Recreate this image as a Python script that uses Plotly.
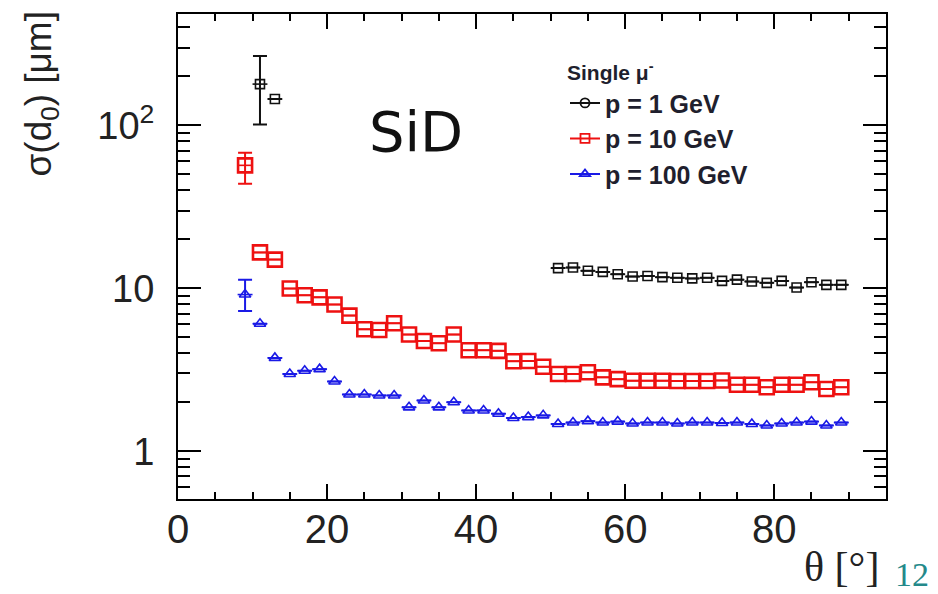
import plotly.graph_objects as go

# ---- data (theta bin centres in degrees, sigma(d0) in micrometres) ----
theta_1gev = [11, 13, 51, 53, 55, 57, 59, 61, 63, 65, 67, 69, 71, 73, 75, 77, 79, 81, 83, 85, 87, 89]
sigma_1gev = [179, 145, 13.3, 13.4, 12.8, 12.6, 12.2, 11.8, 11.9, 11.7, 11.6, 11.5, 11.6, 11.1,
              11.3, 11.0, 10.8, 11.1, 10.1, 10.9, 10.5, 10.5]
err_up_1gev = [87] + [0] * 21
err_dn_1gev = [78] + [0] * 21

theta_10gev = [9, 11, 13, 15, 17, 19, 21, 23, 25, 27, 29, 31, 33, 35, 37, 39, 41, 43, 45, 47, 49,
               51, 53, 55, 57, 59, 61, 63, 65, 67, 69, 71, 73, 75, 77, 79, 81, 83, 85, 87, 89]
sigma_10gev = [56.8, 16.6, 15.0, 9.96, 9.06, 8.8, 7.95, 6.8, 5.6, 5.55, 6.1, 5.2, 4.75, 4.6, 5.2,
               4.17, 4.17, 4.13, 3.57, 3.58, 3.3, 2.98, 2.98, 3.05, 2.84, 2.77, 2.71, 2.71, 2.71,
               2.7, 2.7, 2.7, 2.72, 2.56, 2.56, 2.47, 2.56, 2.56, 2.65, 2.41, 2.47]
err_up_10gev = [11] + [0] * 40
err_dn_10gev = [13] + [0] * 40

theta_100gev = [9, 11, 13, 15, 17, 19, 21, 23, 25, 27, 29, 31, 33, 35, 37, 39, 41, 43, 45, 47, 49,
                51, 53, 55, 57, 59, 61, 63, 65, 67, 69, 71, 73, 75, 77, 79, 81, 83, 85, 87, 89]
sigma_100gev = [9.15, 6.06, 3.74, 2.98, 3.12, 3.19, 2.68, 2.23, 2.23, 2.2, 2.2, 1.86, 2.05, 1.86,
                2.0, 1.78, 1.78, 1.7, 1.6, 1.62, 1.66, 1.47, 1.50, 1.53, 1.50, 1.52, 1.48, 1.50,
                1.50, 1.48, 1.50, 1.50, 1.49, 1.50, 1.47, 1.44, 1.48, 1.50, 1.52, 1.44, 1.50]
err_up_100gev = [2.15] + [0] * 40
err_dn_100gev = [1.9] + [0] * 40

bin_half_width = 1.0

y_tick_vals = [1, 10, 100]
y_tick_text = ["1", "10", "10<sup>2</sup>"]
x_tick_vals = [0, 20, 40, 60, 80]

legend_title = "Single μ<sup>-</sup>"
labels = ["p = 1 GeV", "p = 10 GeV", "p = 100 GeV"]

BLACK = "#111111"
RED = "#ee1111"
BLUE = "#1a1ae6"

fig = go.Figure()


def add_series(x, y, eu, ed, color, symbol, size, lw):
    fig.add_trace(go.Scatter(
        x=x, y=y, mode="markers", showlegend=False,
        marker=dict(symbol=symbol, size=size, color=color,
                    line=dict(color=color, width=lw)),
        error_x=dict(type="constant", value=bin_half_width, color=color, thickness=1.6, width=0),
        error_y=dict(type="data", array=eu, arrayminus=ed, symmetric=False,
                     color=color, thickness=2, width=7),
    ))


add_series(theta_1gev, sigma_1gev, err_up_1gev, err_dn_1gev, BLACK, "square-open", 9, 1.6)
add_series(theta_10gev, sigma_10gev, err_up_10gev, err_dn_10gev, RED, "square-open", 14, 2.6)
add_series(theta_100gev, sigma_100gev, err_up_100gev, err_dn_100gev, BLUE, "triangle-up-open", 10, 1.6)

# legend-only entries
for lab, col, sym in zip(labels, [BLACK, RED, BLUE], ["circle-open", "square-open", "triangle-up-open"]):
    fig.add_trace(go.Scatter(
        x=[None], y=[None], mode="lines+markers", name=lab,
        line=dict(color=col, width=2),
        marker=dict(symbol=sym, size=9, color=col, line=dict(color=col, width=1.8)),
    ))

axis_font = "Liberation Sans, Arial, sans-serif"

# page body has an 8px margin: figure is drawn 8px right/down of the window origin
OFF = 8
W, H = 938 - OFF, 594 - OFF
L, R, T, B = 178 - OFF, 886 - OFF, 12 - OFF, 499 - OFF
PW, PH = R - L, B - T


def px_x(x):
    return (x - 178) / PW


def px_y(y):
    return 1 - (y - 12) / PH


fig.update_layout(
    width=W, height=H,
    margin=dict(l=L, r=W - R, t=T, b=H - B),
    paper_bgcolor="white", plot_bgcolor="white",
    showlegend=True,
    legend=dict(
        x=px_x(565), y=px_y(51), xanchor="left", yanchor="top",
        bgcolor="rgba(0,0,0,0)", borderwidth=0,
        title=dict(text=legend_title, font=dict(size=21, color="#1f1f2e",
                                                 family="Liberation Sans, Arial", weight="bold")),
        font=dict(size=25, color="#1f1f2e", family="Liberation Sans, Arial", weight="bold"),
        itemwidth=30, tracegroupgap=0,
    ),
    xaxis=dict(
        range=[0, 95], showgrid=False, zeroline=False,
        showline=True, linecolor="black", linewidth=2, mirror="allticks",
        ticks="inside", ticklen=15, tickwidth=2, tickcolor="black",
        tickmode="array", tickvals=x_tick_vals,
        ticklabelstandoff=-6,
        tickfont=dict(size=40, color="#222222", family=axis_font),
        minor=dict(ticks="inside", ticklen=7, tickwidth=2, tickcolor="black", dtick=5, showgrid=False),
    ),
    yaxis=dict(
        type="log", range=[-0.293, 2.683], showgrid=False, zeroline=False,
        showline=True, linecolor="black", linewidth=2, mirror="allticks",
        ticks="inside", ticklen=23, tickwidth=2, tickcolor="black",
        tickmode="array", tickvals=y_tick_vals, ticktext=y_tick_text,
        ticklabelstandoff=14,
        tickfont=dict(size=38, color="#222222", family=axis_font),
        minor=dict(ticks="inside", ticklen=12, tickwidth=2, tickcolor="black",
                   tickmode="array",
                   tickvals=[0.6, 0.7, 0.8, 0.9, 2, 3, 4, 5, 6, 7, 8, 9,
                             20, 30, 40, 50, 60, 70, 80, 90, 200, 300, 400],
                   showgrid=False),
    ),
)

# axis titles and labels
fig.add_annotation(text="σ(d<sub>0</sub>) [μm]", xref="paper", yref="paper",
                   x=px_x(41), y=px_y(8), xanchor="center", yanchor="top", textangle=-90,
                   showarrow=False, font=dict(size=37, color="#222222", family=axis_font))
fig.add_annotation(text="θ [°]", xref="paper", yref="paper",
                   x=px_x(881), y=px_y(567), xanchor="right", yanchor="middle",
                   showarrow=False, font=dict(size=42, color="#222222",
                                              family="Liberation Serif, Times New Roman, serif"))
fig.add_annotation(text="SiD", xref="paper", yref="paper",
                   x=px_x(416), y=px_y(130), xanchor="center", yanchor="middle",
                   showarrow=False, font=dict(size=56, color="#111111", family="DejaVu Sans"))
fig.add_annotation(text="12", xref="paper", yref="paper",
                   x=px_x(912), y=px_y(575), xanchor="center", yanchor="middle",
                   showarrow=False, font=dict(size=34, color="#24898a",
                                              family="Liberation Serif, Times New Roman, serif"))

# gray slide-edge boxes at left
for (y0, y1, col) in [(177, 238, "#b4b4b4"), (240, 304, "#cbcbcb"), (306, 374, "#e6e6e6")]:
    fig.add_shape(type="rect", xref="paper", yref="paper",
                  x0=px_x(0), x1=px_x(8),
                  y0=px_y(y1), y1=px_y(y0),
                  fillcolor=col, line=dict(width=0), layer="below")

fig.write_html("out.html")
